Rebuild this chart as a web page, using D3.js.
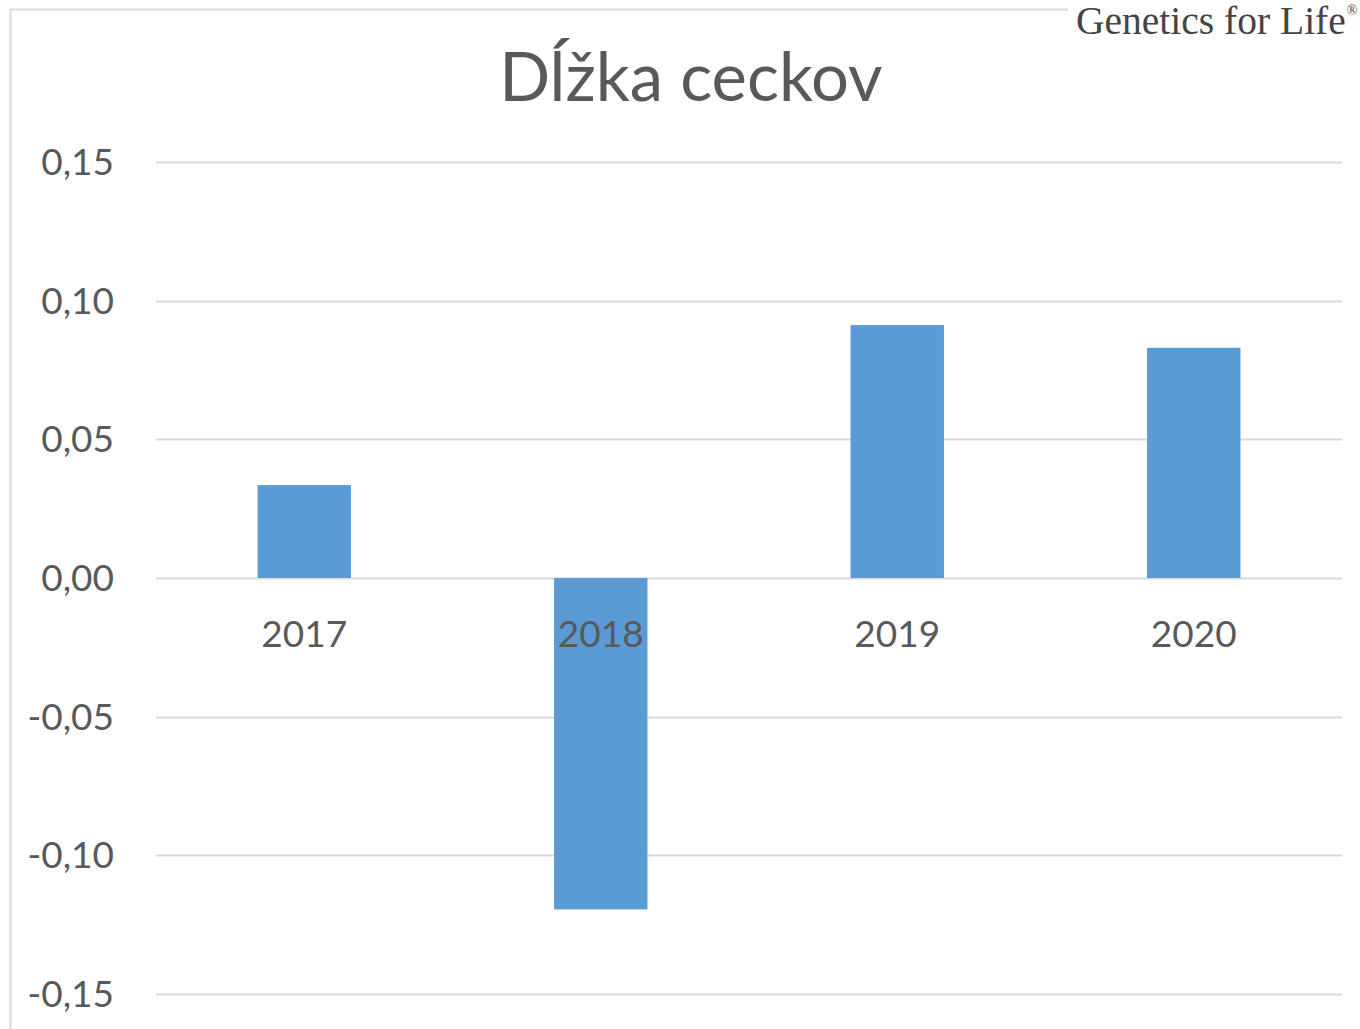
<!DOCTYPE html>
<html>
<head>
<meta charset="utf-8">
<script src="https://cdn.jsdelivr.net/npm/d3@7"></script>
<style>
  body { margin: 0; background: #fff; overflow: hidden; }
  svg { display: block; font-family: Lato, "Open Sans", sans-serif; }
</style>
</head>
<body>
<svg id="chart" width="1360" height="1029"></svg>
<script>
const years = ['2017', '2018', '2019', '2020'];
const values = [0.0335, -0.1195, 0.0912, 0.083];
const yTicks = [0.15, 0.10, 0.05, 0, -0.05, -0.10, -0.15];
const title = 'Dĺžka ceckov';

const svg = d3.select('#chart');
const W = 1360, H = 1029;
const plotLeft = 156, plotRight = 1342, plotTop = 162, plotBottom = 994;

// chart frame (only top and left edges are visible)
svg.append('path')
  .attr('d', `M10.5,${H + 5}V9.5H${W + 5}`)
  .attr('fill', 'none')
  .attr('stroke', '#d9d9d9')
  .attr('stroke-width', 2);

const x = d3.scaleBand()
  .domain(years)
  .range([plotLeft, plotRight])
  .paddingInner(0.685)
  .paddingOuter(0.3425);

const y = d3.scaleLinear()
  .domain([-0.15, 0.15])
  .range([plotBottom, plotTop]);

const fmt = v => d3.format('.2f')(v).replace('.', ',').replace('−', '-');

// gridlines
svg.append('g')
  .selectAll('line')
  .data(yTicks)
  .enter().append('line')
  .attr('x1', plotLeft).attr('x2', plotRight)
  .attr('y1', d => Math.round(y(d)) + 0.5)
  .attr('y2', d => Math.round(y(d)) + 0.5)
  .attr('stroke', '#d9d9d9')
  .attr('stroke-width', 2);

// y tick labels
svg.append('g')
  .selectAll('text')
  .data(yTicks)
  .enter().append('text')
  .attr('x', 114)
  .attr('y', d => y(d) + 13)
  .attr('text-anchor', 'end')
  .attr('font-size', 37)
  .attr('fill', '#595959')
  .text(d => fmt(d));

// bars
svg.append('g')
  .selectAll('rect')
  .data(values)
  .enter().append('rect')
  .attr('x', (d, i) => x(years[i]))
  .attr('width', x.bandwidth())
  .attr('y', d => y(Math.max(0, d)))
  .attr('height', d => Math.abs(y(d) - y(0)))
  .attr('fill', '#5b9bd5');

// category labels
svg.append('g')
  .selectAll('text')
  .data(years)
  .enter().append('text')
  .attr('x', d => x(d) + x.bandwidth() / 2)
  .attr('y', y(0) + 69)
  .attr('text-anchor', 'middle')
  .attr('font-size', 37)
  .attr('fill', '#595959')
  .text(d => d);

// title
svg.append('text')
  .attr('x', 691)
  .attr('y', 101)
  .attr('text-anchor', 'middle')
  .attr('font-size', 67)
  .attr('fill', '#595959')
  .text(title);

// logo
svg.append('rect')
  .attr('x', 1068).attr('y', 0)
  .attr('width', 292).attr('height', 46)
  .attr('fill', '#fff');
const logo = svg.append('text')
  .attr('x', 1076)
  .attr('y', 34)
  .attr('font-family', '"Liberation Serif", "DejaVu Serif", serif')
  .attr('font-size', 39.5)
  .attr('fill', '#444')
  .text('Genetics for Life');
logo.append('tspan')
  .attr('font-size', 14)
  .attr('dx', 1)
  .attr('dy', -19)
  .text('®');
</script>
</body>
</html>
